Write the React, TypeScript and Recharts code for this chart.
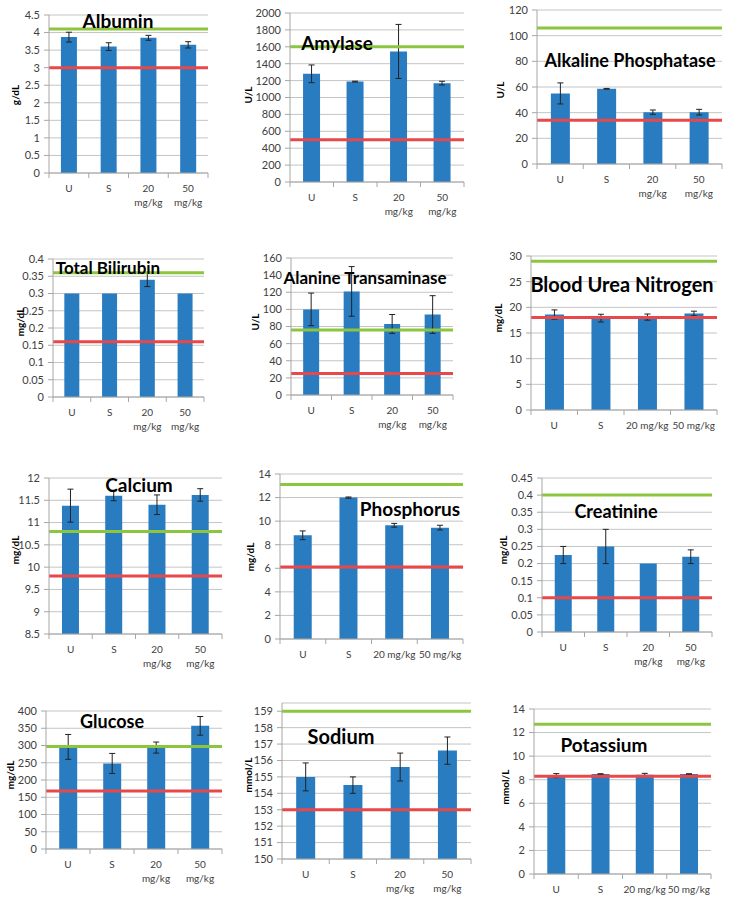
import React from 'react';
import { BarChart, Bar, XAxis, YAxis, CartesianGrid, ReferenceLine, ErrorBar } from 'recharts';

const CATEGORIES = ['U', 'S', '20 mg/kg', '50 mg/kg'];

const ALBUMIN_MEAN = [3.87, 3.6, 3.85, 3.65];
const ALBUMIN_ERR = [0.14, 0.11, 0.07, 0.09];
const ALBUMIN_TICKS = [0, 0.5, 1, 1.5, 2, 2.5, 3, 3.5, 4, 4.5];

const AMYLASE_MEAN = [1280, 1188, 1545, 1170];
const AMYLASE_ERR = [105, 5, 320, 22];
const AMYLASE_TICKS = [0, 200, 400, 600, 800, 1000, 1200, 1400, 1600, 1800, 2000];

const ALP_MEAN = [55, 58.6, 40.4, 40.4];
const ALP_ERR = [8.2, 0.3, 1.7, 2.2];
const ALP_TICKS = [0, 20, 40, 60, 80, 100, 120];

const BILI_MEAN = [0.3, 0.3, 0.34, 0.3];
const BILI_ERR = [0, 0, 0.02, 0];
const BILI_TICKS = [0, 0.05, 0.1, 0.15, 0.2, 0.25, 0.3, 0.35, 0.4];

const ALT_MEAN = [100, 121, 83, 94];
const ALT_ERR = [19, 29, 11, 22];
const ALT_TICKS = [0, 20, 40, 60, 80, 100, 120, 140, 160];

const BUN_MEAN = [18.6, 17.9, 18.1, 18.8];
const BUN_ERR = [0.9, 0.75, 0.6, 0.45];
const BUN_TICKS = [0, 5, 10, 15, 20, 25, 30];

const CALCIUM_MEAN = [11.38, 11.6, 11.4, 11.62];
const CALCIUM_ERR = [0.37, 0.11, 0.22, 0.14];
const CALCIUM_TICKS = [8.5, 9, 9.5, 10, 10.5, 11, 11.5, 12];

const PHOS_MEAN = [8.8, 12.0, 9.65, 9.45];
const PHOS_ERR = [0.37, 0.05, 0.16, 0.2];
const PHOS_TICKS = [0, 2, 4, 6, 8, 10, 12, 14];

const CREAT_MEAN = [0.225, 0.25, 0.2, 0.22];
const CREAT_ERR = [0.025, 0.05, 0, 0.02];
const CREAT_TICKS = [0, 0.05, 0.1, 0.15, 0.2, 0.25, 0.3, 0.35, 0.4, 0.45];

const GLUCOSE_MEAN = [296, 248, 294, 357];
const GLUCOSE_ERR = [36, 29, 16, 27];
const GLUCOSE_TICKS = [0, 50, 100, 150, 200, 250, 300, 350, 400];

const SODIUM_MEAN = [155, 154.5, 155.6, 156.6];
const SODIUM_ERR = [0.85, 0.5, 0.85, 0.83];
const SODIUM_TICKS = [150, 151, 152, 153, 154, 155, 156, 157, 158, 159];

const POTASSIUM_MEAN = [8.35, 8.48, 8.42, 8.48];
const POTASSIUM_ERR = [0.17, 0.03, 0.12, 0.03];
const POTASSIUM_TICKS = [0, 2, 4, 6, 8, 10, 12, 14];

// normal range: high = green line, low = red line
const PANELS = [
  { title: 'Albumin', unit: 'g/dL', mean: ALBUMIN_MEAN, err: ALBUMIN_ERR, ticks: ALBUMIN_TICKS, high: 4.1, low: 3.0, wrap: true },
  { title: 'Amylase', unit: 'U/L', mean: AMYLASE_MEAN, err: AMYLASE_ERR, ticks: AMYLASE_TICKS, high: 1600, low: 500, wrap: true },
  { title: 'Alkaline Phosphatase', unit: 'U/L', mean: ALP_MEAN, err: ALP_ERR, ticks: ALP_TICKS, high: 106, low: 34, wrap: true },
  { title: 'Total Bilirubin', unit: 'mg/dL', mean: BILI_MEAN, err: BILI_ERR, ticks: BILI_TICKS, high: 0.36, low: 0.16, wrap: true },
  { title: 'Alanine Transaminase', unit: 'U/L', mean: ALT_MEAN, err: ALT_ERR, ticks: ALT_TICKS, high: 76, low: 25, wrap: true },
  { title: 'Blood Urea Nitrogen', unit: 'mg/dL', mean: BUN_MEAN, err: BUN_ERR, ticks: BUN_TICKS, high: 29, low: 18, wrap: false },
  { title: 'Calcium', unit: 'mg/dL', mean: CALCIUM_MEAN, err: CALCIUM_ERR, ticks: CALCIUM_TICKS, high: 10.8, low: 9.8, wrap: true },
  { title: 'Phosphorus', unit: 'mg/dL', mean: PHOS_MEAN, err: PHOS_ERR, ticks: PHOS_TICKS, high: 13.1, low: 6.1, wrap: false },
  { title: 'Creatinine', unit: 'mg/dL', mean: CREAT_MEAN, err: CREAT_ERR, ticks: CREAT_TICKS, high: 0.4, low: 0.1, wrap: true },
  { title: 'Glucose', unit: 'mg/dL', mean: GLUCOSE_MEAN, err: GLUCOSE_ERR, ticks: GLUCOSE_TICKS, high: 297, low: 168, wrap: true },
  { title: 'Sodium', unit: 'mmol/L', mean: SODIUM_MEAN, err: SODIUM_ERR, ticks: SODIUM_TICKS, high: 159, low: 153, wrap: true, max: 159.5 },
  { title: 'Potassium', unit: 'mmol/L', mean: POTASSIUM_MEAN, err: POTASSIUM_ERR, ticks: POTASSIUM_TICKS, high: 12.7, low: 8.3, wrap: false },
];

// page positions: plot box [l, t, r, b], title [cx, cy, size], unit label centre [x, y]
const LAYOUT = [
  { plot: [49, 15, 208, 173], title: [118, 21, 19], unit: [15, 95] },
  { plot: [290, 13, 464, 182], title: [337, 43, 19], unit: [248, 95] },
  { plot: [537, 10, 722, 164], title: [630, 61, 18], unit: [500, 90] },
  { plot: [53, 259, 204, 397], title: [108, 268, 17], unit: [20, 322] },
  { plot: [291, 258, 453, 395], title: [365, 278, 17], unit: [255, 322] },
  { plot: [531, 256, 717, 410], title: [622, 285, 20], unit: [498, 318] },
  { plot: [49, 478, 222, 634], title: [139, 485, 19], unit: [15, 550] },
  { plot: [280, 474, 463, 639], title: [410, 509, 19], unit: [250, 557] },
  { plot: [542, 478, 712, 632], title: [616, 512, 18], unit: [503, 550] },
  { plot: [46, 711, 222, 849], title: [112, 722, 18], unit: [10, 775] },
  { plot: [282, 703, 471, 859], title: [341, 737, 20], unit: [248, 775] },
  { plot: [534, 709, 711, 874], title: [604, 745, 19], unit: [505, 787] },
];

const FONT = 'Lato, "Open Sans", sans-serif';
const AXIS = '#a6a6a6';
const YW = 40;
const XH = 40;
const PAD_T = 10;
const PAD_R = 5;

function CatTick(props: any) {
  const { x, y, payload, index, bw, wrap } = props;
  const lines = wrap ? String(payload.value).split(' ') : [String(payload.value)];
  return (
    <g>
      <line x1={x - bw / 2} x2={x - bw / 2} y1={y} y2={y + 5} stroke={AXIS} />
      {index === CATEGORIES.length - 1 && <line x1={x + bw / 2} x2={x + bw / 2} y1={y} y2={y + 5} stroke={AXIS} />}
      <text x={x} y={y + 19} textAnchor="middle" fontSize={10} fill="#404040" fontFamily={FONT}>
        {lines.map((s, k) => (
          <tspan key={k} x={x} dy={k === 0 ? 0 : 14}>{s}</tspan>
        ))}
      </text>
    </g>
  );
}

function Panel({ def, lay }: { def: any; lay: any }) {
  const [l, t, r, b] = lay.plot;
  const left = l - YW;
  const top = t - PAD_T;
  const width = r + PAD_R - left;
  const height = b + XH - top;
  const bw = (r - l) / CATEGORIES.length;
  const data = CATEGORIES.map((c, i) => ({ cat: c, mean: def.mean[i], err: def.err[i] }));
  const max = def.max ?? def.ticks[def.ticks.length - 1];

  return (
    <div style={{ position: 'absolute', left, top, width, height }}>
      <BarChart width={width} height={height} data={data} margin={{ top: PAD_T, right: PAD_R, bottom: 0, left: 0 }} barCategoryGap="30%">
        <CartesianGrid vertical={false} stroke="#c4c4c4" />
        <XAxis
          dataKey="cat"
          height={XH}
          tickSize={0}
          tickMargin={0}
          interval={0}
          axisLine={{ stroke: AXIS }}
          tick={(p: any) => <CatTick {...p} bw={bw} wrap={def.wrap} />}
        />
        <YAxis
          width={YW}
          type="number"
          domain={[def.ticks[0], max]}
          ticks={def.ticks}
          interval={0}
          tickSize={5}
          tickMargin={4}
          axisLine={{ stroke: AXIS }}
          tickLine={{ stroke: AXIS }}
          tick={{ fontSize: 11, fill: '#404040', fontFamily: FONT }}
        />
        <Bar dataKey="mean" fill="#2a7cc1" isAnimationActive={false}>
          <ErrorBar dataKey="err" direction="y" width={3} stroke="#222" strokeWidth={1} />
        </Bar>
        <ReferenceLine y={def.high} stroke="#8cc63f" strokeWidth={3} />
        <ReferenceLine y={def.low} stroke="#e8484a" strokeWidth={3} />
      </BarChart>
    </div>
  );
}

export default function App() {
  return (
    <div style={{ position: 'absolute', left: 0, top: 0, width: 732, height: 900, background: '#fff', fontFamily: FONT }}>
      {PANELS.map((p, i) => (
        <Panel key={p.title} def={p} lay={LAYOUT[i]} />
      ))}
      <svg width={732} height={900} style={{ position: 'absolute', left: 0, top: 0, pointerEvents: 'none' }}>
        {PANELS.map((p, i) => {
          const L = LAYOUT[i];
          return (
            <g key={p.title}>
              <text x={L.title[0]} y={L.title[1] + L.title[2] * 0.36} textAnchor="middle" fontSize={L.title[2]} fontWeight={700} fontFamily={FONT} fill="#000">
                {p.title}
              </text>
              <text
                transform={`translate(${L.unit[0]},${L.unit[1]}) rotate(-90)`}
                textAnchor="middle"
                dominantBaseline="central"
                fontSize={10}
                fontWeight={700}
                fontFamily={FONT}
                fill="#000"
              >
                {p.unit}
              </text>
            </g>
          );
        })}
      </svg>
    </div>
  );
}
